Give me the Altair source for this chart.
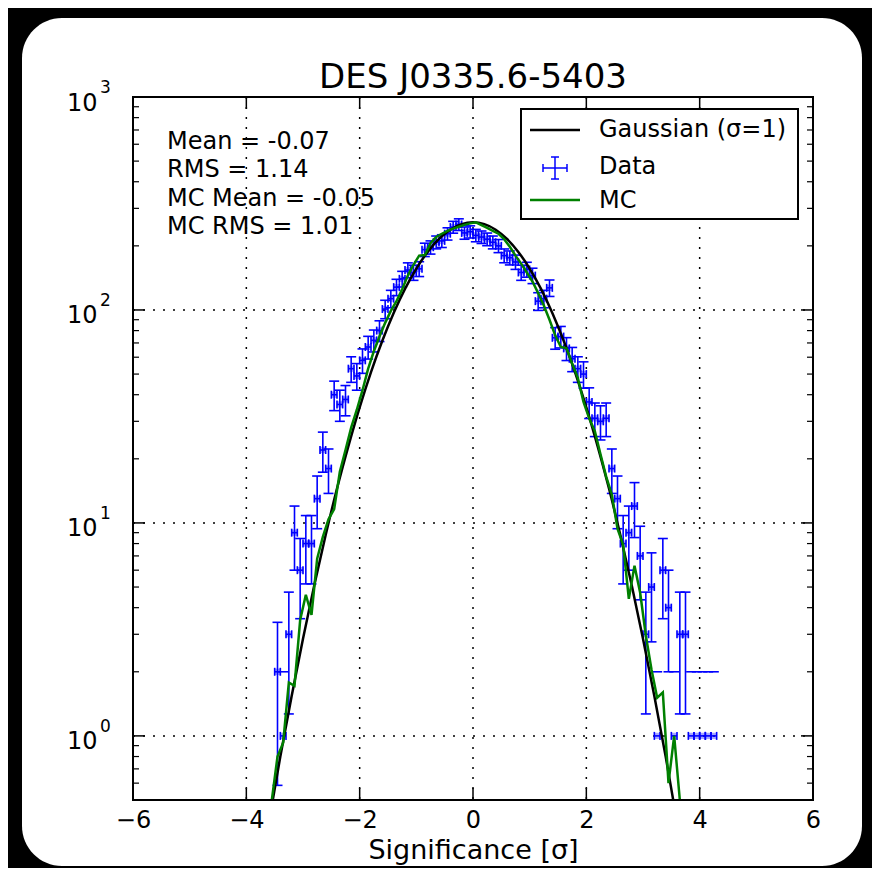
import altair as alt
import numpy as np
import pandas as pd

# ---------------- data ----------------
bin_x = [-3.45, -3.35, -3.25, -3.15, -3.05, -2.95, -2.85, -2.75, -2.65, -2.55,
         -2.45, -2.35, -2.25, -2.15, -2.05, -1.95, -1.85, -1.75, -1.65, -1.55,
         -1.45, -1.35, -1.25, -1.15, -1.05, -0.95, -0.85, -0.75, -0.65, -0.55,
         -0.45, -0.35, -0.25, -0.15, -0.05, 0.05, 0.15, 0.25, 0.35, 0.45,
         0.55, 0.65, 0.75, 0.85, 0.95, 1.05, 1.15, 1.25, 1.35, 1.45,
         1.55, 1.65, 1.75, 1.85, 1.95, 2.05, 2.15, 2.25, 2.35, 2.45,
         2.55, 2.65, 2.75, 2.85, 2.95, 3.05, 3.15, 3.25, 3.35, 3.45,
         3.55, 3.65, 3.75, 3.85, 3.95, 4.05, 4.15, 4.25]
counts = [2, 1, 3, 9, 6, 8, 8, 13, 22, 18,
          40, 36, 38, 53, 49, 58, 67, 72, 80, 101,
          113, 128, 140, 154, 150, 156, 192, 197, 208, 211,
          228, 245, 252, 230, 233, 224, 220, 215, 208, 200,
          180, 176, 168, 150, 155, 145, 110, 113, 127, 74,
          75, 66, 59, 53, 50, 37, 31, 30, 31, 18,
          13, 8, 9, 12, 7, 3, 5, 1, 6, 4,
          1, 3, 3, 1, 1, 1, 1, 1]

gauss_x = [-3.8, -3.6, -3.4, -3.2, -3.0, -2.8, -2.6, -2.4, -2.2, -2.0,
           -1.8, -1.6, -1.4, -1.2, -1.0, -0.8, -0.6, -0.4, -0.2, 0.0,
           0.2, 0.4, 0.6, 0.8, 1.0, 1.2, 1.4, 1.6, 1.8, 2.0,
           2.2, 2.4, 2.6, 2.8, 3.0, 3.2, 3.4, 3.6, 3.8]
gauss_y = [0.19, 0.395, 0.80, 1.54, 2.86, 5.11, 8.77, 14.5, 22.9, 34.9,
           51.1, 71.7, 96.8, 125.6, 156.5, 187.3, 215.5, 238.2, 252.9, 258.0,
           252.9, 238.2, 215.5, 187.3, 156.5, 125.6, 96.8, 71.7, 51.1, 34.9,
           22.9, 14.5, 8.77, 5.11, 2.86, 1.54, 0.80, 0.395, 0.19]

mc_x = [-3.65, -3.55, -3.45, -3.35, -3.25, -3.15, -3.05, -2.95, -2.85, -2.75,
        -2.65, -2.55, -2.45, -2.35, -2.25, -2.15, -2.05, -1.95, -1.85, -1.75,
        -1.65, -1.55, -1.45, -1.35, -1.25, -1.15, -1.05, -0.95, -0.85, -0.75,
        -0.65, -0.55, -0.45, -0.35, -0.25, -0.15, -0.05, 0.05, 0.15, 0.25,
        0.35, 0.45, 0.55, 0.65, 0.75, 0.85, 0.95, 1.05, 1.15, 1.25,
        1.35, 1.45, 1.55, 1.65, 1.75, 1.85, 1.95, 2.05, 2.15, 2.25,
        2.35, 2.45, 2.55, 2.65, 2.75, 2.85, 2.95, 3.05, 3.15, 3.25,
        3.35, 3.45, 3.55, 3.65, 3.75]
mc_y = [0.3, 0.5, 0.8, 0.93, 1.78, 1.72, 3.5, 4.6, 3.7, 6.8,
        8.6, 10.4, 11.6, 17.4, 22.0, 28.0, 34.0, 42.0, 53.0, 64.0,
        75.0, 87.0, 99.0, 110.0, 125.0, 145.0, 163.0, 180.0, 181.0, 206.0,
        220.0, 228.0, 235.0, 241.0, 246.0, 251.0, 255.0, 258.0, 250.0, 243.0,
        235.0, 228.0, 215.0, 198.0, 180.0, 165.0, 150.0, 136.0, 120.0, 105.0,
        90.0, 76.0, 67.0, 66.0, 56.0, 48.0, 37.0, 31.0, 27.0, 21.0,
        16.5, 13.6, 9.4, 7.9, 4.4, 6.3, 4.7, 2.96, 2.05, 1.51,
        1.6, 0.6, 1.0, 0.5, 0.3]

x_ticks = [-6, -4, -2, 0, 2, 4, 6]
y_ticks = [1, 10, 100, 1000]
y_exponents = ["0", "1", "2", "3"]
y_minor = [0.6, 0.7, 0.8, 0.9, 2, 3, 4, 5, 6, 7, 8, 9,
           20, 30, 40, 50, 60, 70, 80, 90, 200, 300, 400, 500, 600, 700, 800, 900]

stats_lines = ["Mean = -0.07", "RMS = 1.14", "MC Mean = -0.05", "MC RMS = 1.01"]
title_text = "DES J0335.6-5403"
x_title = "Significance [σ]"

# ---------------- tables ----------------
df = pd.DataFrame({"x": bin_x, "n": counts})
df["err"] = np.sqrt(df["n"])
df["lo"] = df["n"] - df["err"]
df["hi"] = df["n"] + df["err"]
df["xl"] = df["x"] - 0.05
df["xr"] = df["x"] + 0.05
df_pos = df[df["lo"] > 0]

gdf = pd.DataFrame({"x": gauss_x, "y": gauss_y})
mdf = pd.DataFrame({"x": mc_x, "y": mc_y})
xt_major = pd.DataFrame({"v": [v for v in x_ticks if -6 < v < 6]})
yt_major = pd.DataFrame({"v": [1, 10, 100]})
yt_minor = pd.DataFrame({"v": y_minor})
yexp = pd.DataFrame({"v": y_ticks, "e": y_exponents})

W, H = 680, 703
FONT = "DejaVu Sans"
BLUE = "#0000ff"
GREEN = "#008000"

xs = alt.Scale(domain=[-6, 6], nice=False, zero=False)
ys = alt.Scale(type="log", domain=[0.5, 1000], nice=False)
x_axis = alt.Axis(values=x_ticks, grid=False, ticks=False, domain=False,
                  labelFontSize=24, labelFont=FONT, labelColor="black",
                  labelPadding=8, labelFlush=False,
                  labelExpr="replace(format(datum.value, 'd'), '-', '−')",
                  title=x_title, titleFontSize=27, titleFont=FONT,
                  titleFontWeight="normal", titleColor="black", titlePadding=5,
                  zindex=2)
y_axis = alt.Axis(values=y_ticks, grid=False, ticks=False, domain=False,
                  labelFontSize=24, labelFont=FONT, labelColor="black",
                  labelPadding=36, labelFlush=False, labelOverlap=False,
                  labelOffset=6, labelExpr="'10'",
                  title=None, zindex=2)


def X(f):
    return alt.X(f, type="quantitative", scale=xs, axis=x_axis)


def Y(f):
    return alt.Y(f, type="quantitative", scale=ys, axis=y_axis)


one = pd.DataFrame({"k": [0]})


def seg(x1, y1, x2, y2, color="black", width=1.5):
    return alt.Chart(one).mark_rule(color=color, strokeWidth=width).encode(
        x=alt.value(x1), x2=alt.value(x2), y=alt.value(y1), y2=alt.value(y2))


def label(txt, x, y, size=24):
    return alt.Chart(one).mark_text(text=txt, align="left", baseline="middle",
                                    font=FONT, fontSize=size, color="black").encode(
        x=alt.value(x), y=alt.value(y))


# card background
card = alt.Chart(one).mark_rect(color="white", cornerRadius=40).encode(
    x=alt.value(-111), x2=alt.value(729), y=alt.value(-79), y2=alt.value(769))

dash = [2, 8]
grid_x = alt.Chart(xt_major).mark_rule(color="black", strokeWidth=1.5, strokeDash=dash).encode(
    x=X("v"), y=alt.value(0), y2=alt.value(H))
grid_y = alt.Chart(yt_major).mark_rule(color="black", strokeWidth=1.5, strokeDash=dash).encode(
    y=Y("v"), x=alt.value(0), x2=alt.value(W))

# axis ticks (inside, on all four sides)
tk = []
tk.append(alt.Chart(xt_major).mark_rule(color="black", strokeWidth=1.5).encode(
    x=X("v"), y=alt.value(H - 12), y2=alt.value(H)))
tk.append(alt.Chart(xt_major).mark_rule(color="black", strokeWidth=1.5).encode(
    x=X("v"), y=alt.value(0), y2=alt.value(12)))
tk.append(alt.Chart(yt_major).mark_rule(color="black", strokeWidth=1.5).encode(
    y=Y("v"), x=alt.value(0), x2=alt.value(12)))
tk.append(alt.Chart(yt_major).mark_rule(color="black", strokeWidth=1.5).encode(
    y=Y("v"), x=alt.value(W - 12), x2=alt.value(W)))
tk.append(alt.Chart(yt_minor).mark_rule(color="black", strokeWidth=1.2).encode(
    y=Y("v"), x=alt.value(0), x2=alt.value(6)))
tk.append(alt.Chart(yt_minor).mark_rule(color="black", strokeWidth=1.2).encode(
    y=Y("v"), x=alt.value(W - 6), x2=alt.value(W)))

# exponents of the y tick labels
exps = alt.Chart(yexp).mark_text(align="left", baseline="middle", font=FONT,
                                 fontSize=17, color="black", dy=-9).encode(
    x=alt.value(-33), y=Y("v"), text="e:N")

# data error bars
ew = 1.6
vbar = alt.Chart(df_pos).mark_rule(color=BLUE, strokeWidth=ew).encode(
    x=X("x"), y=Y("lo"), y2="hi")
lo_cap = alt.Chart(df_pos).mark_rule(color=BLUE, strokeWidth=ew, xOffset=-5, x2Offset=5).encode(
    x=X("x"), x2="x", y=Y("lo"))
hi_cap = alt.Chart(df).mark_rule(color=BLUE, strokeWidth=ew, xOffset=-5, x2Offset=5).encode(
    x=X("x"), x2="x", y=Y("hi"))
hbar = alt.Chart(df).mark_rule(color=BLUE, strokeWidth=ew).encode(
    x=X("xl"), x2="xr", y=Y("n"))
lcap = alt.Chart(df).mark_rule(color=BLUE, strokeWidth=ew, yOffset=-4, y2Offset=4).encode(
    x=X("xl"), y=Y("n"), y2="n")
rcap = alt.Chart(df).mark_rule(color=BLUE, strokeWidth=ew, yOffset=-4, y2Offset=4).encode(
    x=X("xr"), y=Y("n"), y2="n")
centre = alt.Chart(df).mark_square(color=BLUE, opacity=0.35, size=40).encode(
    x=X("x"), y=Y("n"))

gline = alt.Chart(gdf).mark_line(color="black", strokeWidth=2.5, clip=True,
                                 interpolate="monotone").encode(x=X("x"), y=Y("y"))
mline = alt.Chart(mdf).mark_line(color=GREEN, strokeWidth=2.5, clip=True).encode(
    x=X("x"), y=Y("y"))

# stats text
stats = alt.Chart(one).mark_text(text=stats_lines, align="left", baseline="middle",
                                 font=FONT, fontSize=24, color="black",
                                 lineHeight=28.3).encode(
    x=alt.value(34), y=alt.value(45))

# title
title = alt.Chart(one).mark_text(text=title_text, align="center", baseline="alphabetic",
                                 font=FONT, fontSize=34, color="black").encode(
    x=alt.value(W / 2), y=alt.value(-9))

# legend
lg = [alt.Chart(one).mark_rect(color="white", stroke="black", strokeWidth=2).encode(
    x=alt.value(388), x2=alt.value(665), y=alt.value(12), y2=alt.value(122))]
lg.append(seg(397, 33, 447, 33, "black", 2.5))
lg.append(label("Gaussian (σ=1)", 466, 33))
lg.append(seg(422, 60, 422, 82, BLUE))
lg.append(seg(418, 60, 426, 60, BLUE))
lg.append(seg(418, 82, 426, 82, BLUE))
lg.append(seg(410, 71, 434, 71, BLUE))
lg.append(seg(410, 67, 410, 75, BLUE))
lg.append(seg(434, 67, 434, 75, BLUE))
lg.append(label("Data", 466, 70))
lg.append(seg(397, 103, 447, 103, GREEN, 2.5))
lg.append(label("MC", 466, 104))

frame = alt.Chart(one).mark_rect(fillOpacity=0, stroke="black", strokeWidth=2).encode(
    x=alt.value(0), x2=alt.value(W), y=alt.value(0), y2=alt.value(H))

chart = alt.layer(
    card, grid_x, grid_y, *tk, exps,
    vbar, lo_cap, hi_cap, hbar, lcap, rcap, centre,
    gline, mline, stats, title, *lg, frame
).properties(
    width=W, height=H,
    autosize=alt.AutoSizeParams(type="none"),
    padding={"left": 125, "top": 89, "right": 59, "bottom": 68},
).configure(background="black").configure_view(stroke=None, fill="white")

chart.save("out.html", embed_options={"renderer": "svg", "actions": False})
